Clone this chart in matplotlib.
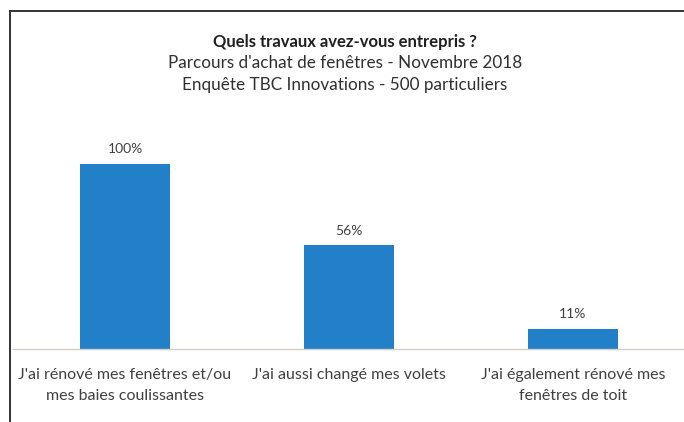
import matplotlib.pyplot as plt
from matplotlib.lines import Line2D

categories = [
    "J'ai rénové mes fenêtres et/ou\nmes baies coulissantes",
    "J'ai aussi changé mes volets",
    "J'ai également rénové mes\nfenêtres de toit",
]
values = [100, 56, 11]
title_lines = [
    "Quels travaux avez-vous entrepris ?",
    "Parcours d'achat de fenêtres - Novembre 2018",
    "Enquête TBC Innovations - 500 particuliers",
]

plt.rcParams['font.family'] = ['Lato', 'DejaVu Sans']

W, H = 684, 422
fig = plt.figure(figsize=(W / 100, H / 100), dpi=100)
fig.patch.set_facecolor('white')

# plot area: baseline at y=349 px, bars scaled so 100% reaches y=164 px
ax_left, ax_right = 13, 685
ax_bottom, ax_top = 349, 130
ax = fig.add_axes([ax_left / W, 1 - ax_bottom / H,
                   (ax_right - ax_left) / W, (ax_bottom - ax_top) / H])
ymax = (ax_bottom - ax_top) / (349 - 164) * 100
ax.set_xlim(-0.5, len(categories) - 0.5)
ax.set_ylim(0, ymax)

x = list(range(len(categories)))
bars = ax.bar(x, values, width=0.4, color='#2280c8')
for xi, v in zip(x, values):
    ax.text(xi, v + ymax * 0.04, f"{v}%", ha='center', va='bottom',
            fontsize=10, color='#404040')

ax.set_xticks(x)
ax.set_xticklabels(categories, fontsize=11.5, color='#404040', linespacing=1.6)
ax.tick_params(axis='x', length=0, pad=14)
ax.set_yticks([])
for side in ('top', 'right', 'left'):
    ax.spines[side].set_visible(False)
ax.spines['bottom'].set_color('#d4ccc4')
ax.spines['bottom'].set_linewidth(1.0)

# titles
fig.text(345 / W, 1 - 42 / H, title_lines[0], ha='center', va='center',
         fontsize=12, fontweight='bold', color='#202020')
fig.text(345 / W, 1 - 63 / H, title_lines[1], ha='center', va='center',
         fontsize=12.3, color='#303030')
fig.text(345 / W, 1 - 85 / H, title_lines[2], ha='center', va='center',
         fontsize=12.3, color='#303030')

# outer frame (top and left edges)
fig.add_artist(Line2D([9.5 / W, 1], [1 - 10.5 / H, 1 - 10.5 / H],
                      transform=fig.transFigure, color='#333333', lw=1.4))
fig.add_artist(Line2D([9.5 / W, 9.5 / W], [0, 1 - 10.5 / H],
                      transform=fig.transFigure, color='#333333', lw=1.4))

fig.savefig('out.png', dpi=100)
